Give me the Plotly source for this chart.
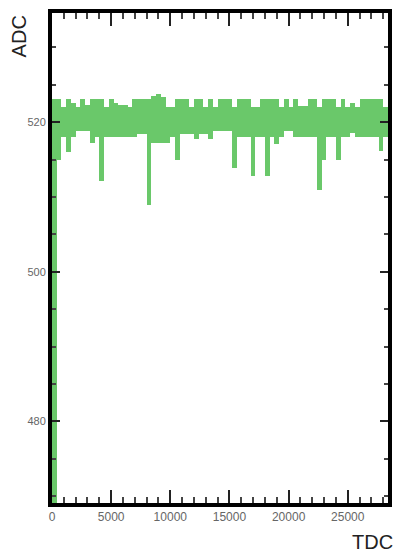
import plotly.graph_objects as go

# ADC spread (min / max) per TDC bin, bin width 400 TDC counts starting at 0
bin_width = 400
adc_low = [
    0, 515, 518, 516, 518, 518.8, 518.8, 518.8, 517.2, 518,
    512.1, 518, 518, 518, 518, 518, 518, 518, 518.4, 518.4,
    509, 517.2, 517.2, 517.2, 517.2, 518, 515, 518.4, 518.4, 518.4,
    517.8, 518.4, 518.4, 517.8, 518.8, 518.8, 518.8, 518.8, 513.9, 518,
    518, 518, 512.8, 518, 518, 512.8, 518, 517.1, 518, 518.8,
    518.8, 518, 518, 518, 518, 518, 511, 515, 518, 518,
    515, 518, 518, 518.6, 518, 518, 518, 518, 518, 516.1,
    518,
]
adc_high = [
    523.1, 523.1, 522.1, 523.1, 522.6, 522.1, 523.1, 522.35, 523.1, 523.1,
    523.1, 522.1, 523.1, 522.6, 522.35, 522.35, 522.1, 523.1, 523.1, 523.1,
    523.1, 523.5, 523.8, 523.4, 522.1, 522.1, 523.1, 523.1, 523.1, 522.1,
    523.1, 523.1, 522.1, 523.1, 522.1, 523.1, 523.1, 523.1, 522.1, 523.1,
    523.1, 523.1, 522.1, 522.1, 523.1, 523.1, 523.1, 523.1, 522.1, 523.1,
    522.1, 523.1, 522.2, 522.2, 523.1, 523.1, 522.1, 523.1, 523.1, 523.1,
    522.1, 523.1, 522.1, 522.6, 522.1, 523.1, 523.1, 523.1, 523.1, 523.1,
    522.1,
]
tdc_centers = [bin_width * (i + 0.5) for i in range(len(adc_low))]

x_ticks = [0, 5000, 10000, 15000, 20000, 25000]
y_ticks = [480, 500, 520]

band = [hi - lo for lo, hi in zip(adc_low, adc_high)]

fig = go.Figure(
    go.Bar(
        x=tdc_centers,
        y=band,
        base=adc_low,
        width=bin_width,
        marker=dict(color="#6ac86a", line=dict(width=0)),
        hoverinfo="skip",
    )
)

font_family = "Liberation Sans, Arial, sans-serif"

fig.update_layout(
    width=397,
    height=555,
    margin=dict(l=52, r=5, t=13, b=52),
    paper_bgcolor="white",
    plot_bgcolor="white",
    bargap=0,
    showlegend=False,
    font=dict(family=font_family),
    xaxis=dict(
        range=[0, 28400],
        tickvals=x_ticks,
        ticktext=[str(v) for v in x_ticks],
        ticks="inside",
        ticklen=13,
        tickwidth=2,
        tickcolor="#222",
        minor=dict(dtick=1000, tick0=0, ticks="inside", ticklen=6, tickwidth=2, tickcolor="#444"),
        showline=True,
        linewidth=4,
        linecolor="black",
        mirror="ticks",
        showgrid=False,
        zeroline=False,
        tickfont=dict(size=12, color="#666"),
    ),
    yaxis=dict(
        range=[469.1, 534.6],
        tickvals=y_ticks,
        ticktext=[str(v) for v in y_ticks],
        ticks="inside",
        ticklen=8,
        tickwidth=2,
        tickcolor="#222",
        minor=dict(dtick=5, tick0=480, ticks="inside", ticklen=4, tickwidth=2, tickcolor="#444"),
        showline=True,
        linewidth=4,
        linecolor="black",
        mirror="ticks",
        showgrid=False,
        zeroline=False,
        tickfont=dict(size=11, color="#666"),
    ),
    annotations=[
        dict(
            text="ADC", xref="paper", yref="paper",
            x=-0.097, y=1.0, xanchor="center", yanchor="top",
            textangle=-90, showarrow=False,
            font=dict(size=20, color="#222", family=font_family),
        ),
        dict(
            text="TDC", xref="paper", yref="paper",
            x=1.02, y=-0.0806, xanchor="right", yanchor="middle",
            showarrow=False,
            font=dict(size=20, color="#222", family=font_family),
        ),
    ],
)

fig.write_html("out.html")
